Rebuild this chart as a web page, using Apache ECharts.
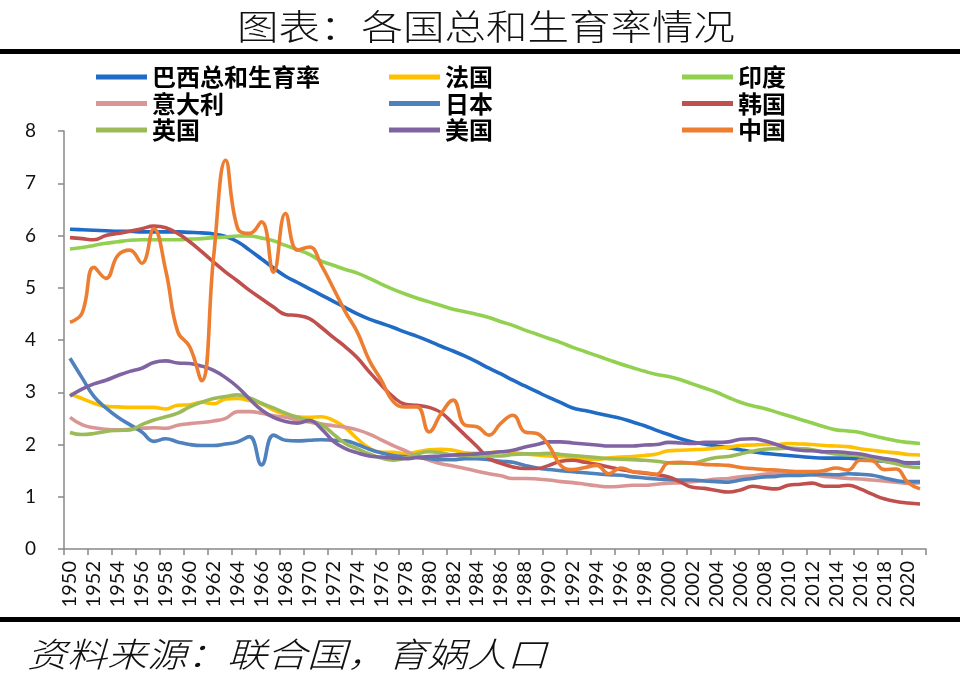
<!DOCTYPE html>
<html>
<head>
<meta charset="utf-8">
<script src="https://cdn.jsdelivr.net/npm/echarts@6/dist/echarts.min.js"></script>
<style>
html,body{margin:0;padding:0;background:#fff;}
#chart{width:960px;height:676px;}
</style>
</head>
<body>
<div id="chart"></div>
<script>
var years = [];
for (var y = 1950; y <= 2021; y++) years.push(String(y));

var seriesNames = ['巴西总和生育率','法国','印度','意大利','日本','韩国','英国','美国','中国'];
var seriesColors = ['#1F6BC6','#FFC000','#92D050','#D99694','#4F81BD','#C0504D','#9BBB59','#8064A2','#ED7D31'];

var brazil = [6.12,6.11,6.10,6.09,6.08,6.08,6.07,6.07,6.07,6.07,6.06,6.05,6.03,5.98,5.88,5.72,5.55,5.38,5.22,5.10,
4.98,4.86,4.74,4.62,4.50,4.40,4.32,4.24,4.15,4.07,3.98,3.88,3.79,3.69,3.58,3.46,3.35,3.23,3.12,3.01,
2.90,2.80,2.70,2.65,2.60,2.55,2.50,2.43,2.36,2.27,2.19,2.11,2.05,2.01,1.97,1.94,1.90,1.86,1.83,1.81,
1.79,1.77,1.75,1.74,1.74,1.74,1.72,1.70,1.68,1.66,1.65,1.64];
var france = [2.97,2.88,2.79,2.73,2.72,2.71,2.71,2.71,2.68,2.75,2.76,2.81,2.78,2.87,2.88,2.84,2.78,2.66,2.58,2.53,
2.52,2.53,2.46,2.32,2.11,1.93,1.85,1.85,1.82,1.86,1.90,1.91,1.89,1.84,1.83,1.84,1.86,1.84,1.82,1.80,
1.78,1.77,1.75,1.72,1.72,1.74,1.76,1.77,1.79,1.82,1.88,1.89,1.90,1.91,1.93,1.95,1.98,1.99,2.00,2.00,
2.02,2.01,2.00,1.98,1.97,1.96,1.92,1.89,1.86,1.84,1.81,1.80];
var india = [5.74,5.77,5.81,5.85,5.88,5.91,5.92,5.92,5.92,5.92,5.93,5.94,5.96,5.97,5.99,5.99,5.95,5.90,5.81,5.73,
5.64,5.51,5.43,5.35,5.28,5.18,5.07,4.97,4.88,4.80,4.73,4.66,4.59,4.54,4.49,4.43,4.35,4.28,4.19,4.11,
4.03,3.95,3.86,3.78,3.70,3.62,3.54,3.47,3.40,3.34,3.30,3.24,3.16,3.08,3.00,2.90,2.81,2.74,2.69,2.62,
2.55,2.48,2.41,2.34,2.28,2.26,2.23,2.17,2.12,2.07,2.04,2.02];
var italy = [2.52,2.38,2.32,2.29,2.28,2.29,2.31,2.32,2.31,2.37,2.40,2.42,2.45,2.50,2.63,2.63,2.60,2.55,2.52,2.47,
2.43,2.39,2.36,2.33,2.28,2.20,2.09,1.98,1.88,1.78,1.70,1.63,1.59,1.54,1.49,1.44,1.40,1.35,1.35,1.34,
1.32,1.29,1.27,1.24,1.21,1.19,1.20,1.22,1.22,1.24,1.26,1.27,1.29,1.31,1.34,1.35,1.38,1.40,1.43,1.45,
1.45,1.44,1.42,1.39,1.37,1.35,1.34,1.32,1.30,1.28,1.26,1.27];
var japan = [3.65,3.28,2.92,2.70,2.52,2.38,2.24,2.06,2.11,2.05,2.00,1.98,1.98,2.01,2.05,2.15,1.61,2.18,2.08,2.07,
2.08,2.09,2.08,2.07,2.00,1.91,1.84,1.79,1.77,1.75,1.73,1.71,1.71,1.73,1.73,1.71,1.68,1.66,1.60,1.55,
1.52,1.50,1.48,1.46,1.44,1.42,1.41,1.38,1.36,1.34,1.33,1.32,1.32,1.30,1.29,1.28,1.32,1.35,1.38,1.39,
1.41,1.41,1.42,1.43,1.42,1.44,1.43,1.41,1.36,1.31,1.29,1.29];
var korea = [5.96,5.94,5.92,6.00,6.04,6.08,6.13,6.18,6.15,6.04,5.88,5.69,5.49,5.30,5.13,4.95,4.79,4.63,4.49,4.47,
4.41,4.24,4.05,3.87,3.66,3.39,3.14,2.91,2.77,2.75,2.71,2.61,2.40,2.18,1.96,1.73,1.64,1.57,1.54,1.54,
1.60,1.68,1.70,1.66,1.62,1.57,1.52,1.48,1.45,1.42,1.38,1.28,1.18,1.16,1.12,1.09,1.13,1.20,1.17,1.15,
1.22,1.24,1.26,1.20,1.20,1.22,1.15,1.05,0.96,0.91,0.88,0.86];
var uk = [2.23,2.19,2.21,2.25,2.27,2.28,2.38,2.47,2.53,2.60,2.72,2.81,2.88,2.92,2.95,2.89,2.79,2.70,2.60,2.52,
2.46,2.38,2.20,2.02,1.92,1.82,1.74,1.70,1.74,1.82,1.86,1.84,1.80,1.79,1.78,1.78,1.78,1.81,1.82,1.82,
1.83,1.81,1.79,1.77,1.75,1.73,1.72,1.71,1.70,1.68,1.65,1.64,1.64,1.70,1.75,1.77,1.82,1.87,1.91,1.92,
1.93,1.92,1.90,1.85,1.82,1.80,1.78,1.74,1.68,1.63,1.58,1.56];
var usa = [2.93,3.06,3.16,3.23,3.32,3.40,3.46,3.57,3.60,3.56,3.55,3.50,3.42,3.28,3.10,2.87,2.66,2.52,2.44,2.41,
2.46,2.30,2.06,1.92,1.84,1.78,1.76,1.74,1.73,1.75,1.77,1.78,1.80,1.81,1.82,1.84,1.86,1.89,1.95,2.00,
2.05,2.05,2.03,2.01,1.99,1.97,1.97,1.97,1.99,2.00,2.04,2.03,2.02,2.04,2.04,2.05,2.10,2.11,2.07,2.00,
1.93,1.89,1.88,1.86,1.86,1.84,1.82,1.77,1.73,1.70,1.64,1.66];
var china = [4.34,4.51,5.39,5.18,5.62,5.72,5.47,6.13,5.33,4.16,3.87,3.22,5.60,7.44,6.14,6.04,6.26,5.30,6.42,5.72,
5.78,5.43,4.99,4.54,4.15,3.61,3.23,2.82,2.72,2.72,2.24,2.59,2.85,2.37,2.34,2.18,2.41,2.56,2.24,2.21,
1.98,1.60,1.52,1.56,1.60,1.44,1.55,1.48,1.46,1.43,1.65,1.66,1.64,1.62,1.61,1.60,1.56,1.54,1.52,1.51,
1.49,1.48,1.48,1.50,1.55,1.51,1.70,1.69,1.52,1.53,1.27,1.15];

var yTicks = [0,1,2,3,4,5,6,7,8];
var titleText = '图表：各国总和生育率情况';
var sourceText = '资料来源：联合国，育娲人口';

var seriesData = [brazil, france, india, italy, japan, korea, uk, usa, china];

var chart = echarts.init(document.getElementById('chart'), null, {renderer: 'canvas'});

var series = seriesNames.map(function (n, i) {
  return {
    name: n,
    type: 'line',
    data: seriesData[i],
    smooth: 0.45,
    symbol: 'none',
    lineStyle: {width: 3.6, color: seriesColors[i]},
    itemStyle: {color: seriesColors[i]},
    z: 2 + i
  };
});

var legendText = {fontSize: 24, fontWeight: 'bold', color: '#000', fontFamily: '"Noto Sans CJK SC", sans-serif', lineHeight: 26};
function mkLegend(names, left) {
  return {
    data: names, left: left, top: 64, orient: 'vertical',
    icon: 'rect', itemWidth: 51, itemHeight: 5, itemGap: 0.5,
    textStyle: legendText, padding: 0, selectedMode: false
  };
}

var option = {
  animation: false,
  backgroundColor: '#fff',
  legend: [
    mkLegend([seriesNames[0], seriesNames[3], seriesNames[6]], 96),
    mkLegend([seriesNames[1], seriesNames[4], seriesNames[7]], 389),
    mkLegend([seriesNames[2], seriesNames[5], seriesNames[8]], 682)
  ],
  grid: {left: 64, right: 34, top: 131, bottom: 127, containLabel: false},
  xAxis: {
    type: 'category',
    data: years,
    boundaryGap: true,
    axisLine: {lineStyle: {color: '#888', width: 1.5}},
    axisTick: {show: true, interval: 1, length: 6, lineStyle: {color: '#888', width: 1.5}},
    axisLabel: {interval: 1, rotate: 90, margin: 12, fontSize: 20, color: '#111', fontFamily: 'Lato, sans-serif'},
    splitLine: {show: false}
  },
  yAxis: {
    type: 'value',
    min: yTicks[0], max: yTicks[yTicks.length - 1], interval: 1,
    axisLine: {show: true, lineStyle: {color: '#888', width: 1.5}},
    axisTick: {show: true, length: 6, lineStyle: {color: '#888', width: 1.5}},
    axisLabel: {margin: 28, fontSize: 19, color: '#111', fontFamily: 'Lato, sans-serif'},
    splitLine: {show: false}
  },
  graphic: [
    {type: 'text', x: 486, y: 27, scaleY: 0.84, z: 10,
     style: {text: titleText, fontSize: 41.5, fontWeight: 300, fontFamily: '"Noto Sans CJK SC", sans-serif', fill: '#111', textAlign: 'center', textVerticalAlign: 'middle'}},
    {type: 'rect', shape: {x: 0, y: 49, width: 960, height: 5}, style: {fill: '#000'}, z: 10},
    {type: 'rect', shape: {x: 0, y: 617, width: 960, height: 5}, style: {fill: '#000'}, z: 10},
    {type: 'text', x: 27, y: 654, scaleY: 0.85, z: 10,
     style: {text: sourceText, fontSize: 40, fontWeight: 300, fontStyle: 'italic', fontFamily: '"Noto Sans CJK SC", sans-serif', fill: '#111', textAlign: 'left', textVerticalAlign: 'middle'}}
  ],
  series: series
};
chart.setOption(option);
</script>
</body>
</html>
